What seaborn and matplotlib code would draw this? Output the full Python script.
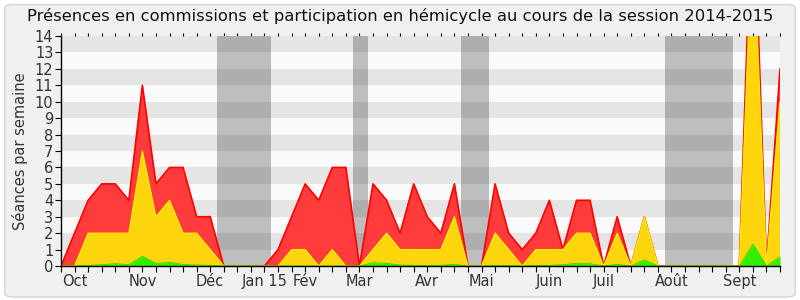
import numpy as np
import pandas as pd
import matplotlib
matplotlib.use("Agg")
import matplotlib.pyplot as plt
from matplotlib.patches import FancyBboxPatch
import seaborn as sns

# ---- data (one value per week of the session) ----
weeks = list(range(54))
total = [0, 2, 4, 5, 5, 4, 11, 5, 6, 6, 3, 3, 0, 0, 0, 0, 1, 3, 5, 4,
         6, 6, 0, 5, 4, 2, 5, 3, 2, 5, 0, 0, 5, 2, 1, 2, 4, 1, 4, 4,
         0, 3, 0, 3, 0, 0, 0, 0, 0, 0, 0, 24, 0, 12]
hemicycle = [0, 0, 2, 2, 2, 2, 7, 3, 4, 2, 2, 1, 0, 0, 0, 0, 0, 1, 1, 0,
             1, 0, 0, 1, 2, 1, 1, 1, 1, 3, 0, 0, 2, 1, 0, 1, 1, 1, 2, 2,
             0, 2, 0, 3, 0, 0, 0, 0, 0, 0, 0, 21, 0, 10]
green = [0, 0, 0.04, 0.08, 0.14, 0.08, 0.6, 0.14, 0.22, 0.1, 0.06, 0.04, 0, 0, 0, 0, 0, 0, 0, 0,
         0, 0, 0, 0.2, 0.16, 0.06, 0.04, 0.04, 0.04, 0.1, 0, 0, 0.04, 0.04, 0, 0.04, 0.04, 0.08, 0.16, 0.14,
         0, 0.1, 0, 0.37, 0, 0, 0, 0, 0, 0, 0, 1.34, 0, 0.57]

month_labels = ["Oct", "Nov", "Déc", "Jan 15", "Fév", "Mar", "Avr", "Mai", "Juin", "Juil", "Août", "Sept"]
month_weeks = [1, 6, 11, 15, 18, 22, 27, 31, 36, 40, 45, 50]

vacations = [(11.5, 15.5), (21.5, 22.6), (29.5, 31.55), (44.5, 49.55)]

title = "Présences en commissions et participation en hémicycle au cours de la session 2014-2015"
ylabel = "Séances par semaine"

df = pd.DataFrame({"week": weeks, "total": total, "hemicycle": hemicycle, "green": green})

sns.set_theme(style="white")
plt.rcParams["font.family"] = ["DejaVu Sans"]

fig = plt.figure(figsize=(8, 3), dpi=100)
fig.patch.set_facecolor("white")
bg = FancyBboxPatch((0.006, 0.01), 0.988, 0.975, boxstyle="round,pad=0,rounding_size=0.012",
                    transform=fig.transFigure, facecolor="#f0f0f0", edgecolor="#d5d5d5",
                    linewidth=1, zorder=-10)
fig.patches.append(bg)

ax = fig.add_axes([0.07625, 0.1133, 0.975 - 0.07625, 0.88 - 0.1133])
ax.set_facecolor("#fafafa")

ymax = 14
# vacation bands
for a, b in vacations:
    ax.axvspan(a, b, color="#bebebe", zorder=1, lw=0)
# dark stripes
for k in range(1, ymax, 2):
    ax.axhspan(k, k + 1, color="black", alpha=0.083, zorder=2, lw=0)

# areas
ax.fill_between(df["week"], 0, df["total"], color="#ff3b3b", zorder=3, lw=0)
sns.lineplot(data=df, x="week", y="total", ax=ax, color="#ff0000", lw=1.2, zorder=4)
ax.fill_between(df["week"], 0, df["hemicycle"], color="#ffd50e", zorder=5, lw=0)
sns.lineplot(data=df, x="week", y="hemicycle", ax=ax, color="#ffee00", lw=0.9, zorder=6)
ax.fill_between(df["week"], 0, df["green"], color="#33ee00", zorder=7, lw=0)
sns.lineplot(data=df, x="week", y="green", ax=ax, color="#22dd00", lw=0.6, zorder=8)

ax.set_xlim(0, 53)
ax.set_ylim(0, ymax)

ax.set_yticks(range(0, ymax + 1))
ax.set_yticklabels([str(v) for v in range(0, ymax + 1)], fontsize=10.5, color="#333333")
ax.set_xticks(weeks)
labels = [""] * len(weeks)
for lab, w in zip(month_labels, month_weeks):
    labels[w] = lab
ax.set_xticklabels(labels, fontsize=10.5, color="#333333")
ax.tick_params(axis="both", which="both", direction="out", length=4, width=0.8, color="black",
               bottom=True, left=True, top=True, pad=1.5)
ax.tick_params(axis="x", which="both", top=True, labeltop=False)
for t in ax.xaxis.get_major_ticks():
    t.tick2line.set_markersize(2)
    t.tick2line.set_marker(2)

ax.set_xlabel("")
ax.set_ylabel(ylabel, fontsize=10.5, color="#333333", labelpad=5)
fig.text(0.5, 0.948, title, fontsize=11.8, color="#111111", ha="center", va="center")

for s in ["top", "right"]:
    ax.spines[s].set_visible(False)
ax.spines["left"].set_color("black")
ax.spines["bottom"].set_color("black")
ax.spines["left"].set_linewidth(1)
ax.spines["bottom"].set_linewidth(1)
for s in ["left", "bottom"]:
    ax.spines[s].set_zorder(10)

fig.savefig("out.png", dpi=100, facecolor=fig.get_facecolor())
